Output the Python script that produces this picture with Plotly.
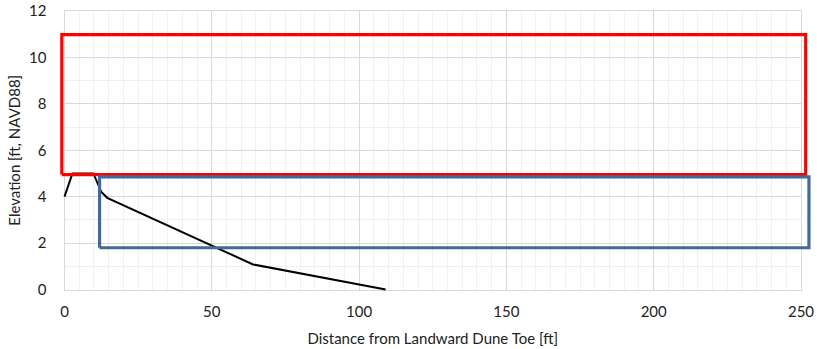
import plotly.graph_objects as go

# Profile data
profile_x = [0, 2.7, 9.8, 12.5, 14.5, 64, 109]
profile_y = [4, 5, 5, 4.2, 3.95, 1.08, 0]

# Rectangles (x extents, y extents)
red_x = [-0.9, 251.6]
red_y = [4.95, 10.98]
blue_x = [11.9, 252.7]
blue_y = [1.8, 4.85]

x_ticks = [0, 50, 100, 150, 200, 250]
y_ticks = [0, 2, 4, 6, 8, 10, 12]

W, H = 817, 349
ML, MR, MT, MB = 50, 0, 4, 50
# main plot area in pixels
PX0, PX1 = 64.5, 801.0
PY0, PY1 = 11.0, 289.5  # top, bottom
XR = [0, 250]
YR = [0, 12]

pw = W - ML - MR
ph = H - MT - MB
xdom = [(PX0 - ML) / pw, (PX1 - ML) / pw]
ydom = [((H - MB) - PY1) / ph, ((H - MB) - PY0) / ph]
xs = (PX1 - PX0) / (XR[1] - XR[0])
ys = (PY1 - PY0) / (YR[1] - YR[0])
x2r = [XR[0] - (PX0 - ML) / xs, XR[1] + ((W - MR) - PX1) / xs]
y2r = [YR[0] - ((H - MB) - PY1) / ys, YR[1] + (PY0 - MT) / ys]


def rect(xr, yr):
    return ([xr[0], xr[1], xr[1], xr[0], xr[0]],
            [yr[0], yr[0], yr[1], yr[1], yr[0]])


fig = go.Figure()
# invisible trace to anchor the main axes
fig.add_trace(go.Scatter(x=XR, y=YR, mode="markers", marker=dict(opacity=0),
                         showlegend=False, hoverinfo="skip"))
fig.add_trace(go.Scatter(x=profile_x, y=profile_y, mode="lines",
                         line=dict(color="black", width=2), xaxis="x2", yaxis="y2",
                         showlegend=False, hoverinfo="skip"))
rx, ry = rect(red_x, red_y)
fig.add_trace(go.Scatter(x=rx, y=ry, mode="lines",
                         line=dict(color="#FF0000", width=3.2), xaxis="x2", yaxis="y2",
                         showlegend=False, hoverinfo="skip"))
bx, by = rect(blue_x, blue_y)
fig.add_trace(go.Scatter(x=bx, y=by, mode="lines",
                         line=dict(color="#42699B", width=3.2), xaxis="x2", yaxis="y2",
                         showlegend=False, hoverinfo="skip"))

font = dict(family="Lato, Open Sans, sans-serif", size=15, color="#222222")

fig.update_layout(
    width=W, height=H,
    margin=dict(l=ML, r=MR, t=MT, b=MB, autoexpand=False),
    plot_bgcolor="rgba(0,0,0,0)", paper_bgcolor="white",
    font=font,
    xaxis=dict(domain=xdom, range=XR, tickvals=x_ticks, ticks="", showgrid=True,
               gridcolor="#D9D9D9", gridwidth=1, automargin=False,
               ticklabeloverflow="allow",
               minor=dict(dtick=5, showgrid=True, gridcolor="#F0F0F0", gridwidth=1),
               showline=True, linecolor="#D9D9D9", mirror=True, zeroline=False,
               tickfont=font, ticklabelstandoff=8,
               title=dict(text="Distance from Landward Dune Toe [ft]", font=font, standoff=14)),
    yaxis=dict(domain=ydom, range=YR, tickvals=y_ticks, ticks="", showgrid=True,
               gridcolor="#D9D9D9", gridwidth=1, automargin=False,
               ticklabeloverflow="allow",
               minor=dict(dtick=1, showgrid=True, gridcolor="#F0F0F0", gridwidth=1),
               showline=True, linecolor="#D9D9D9", mirror=True, zeroline=False,
               tickfont=font, ticklabelstandoff=14,
               title=dict(text="Elevation [ft, NAVD88]", font=font, standoff=4)),
    xaxis2=dict(domain=[0, 1], range=x2r, visible=False, anchor="y2", automargin=False),
    yaxis2=dict(domain=[0, 1], range=y2r, visible=False, anchor="x2", automargin=False),
)

fig.write_html("out.html", config={"displayModeBar": False},
               post_script="document.body.style.margin='0';document.body.style.overflow='hidden';")
